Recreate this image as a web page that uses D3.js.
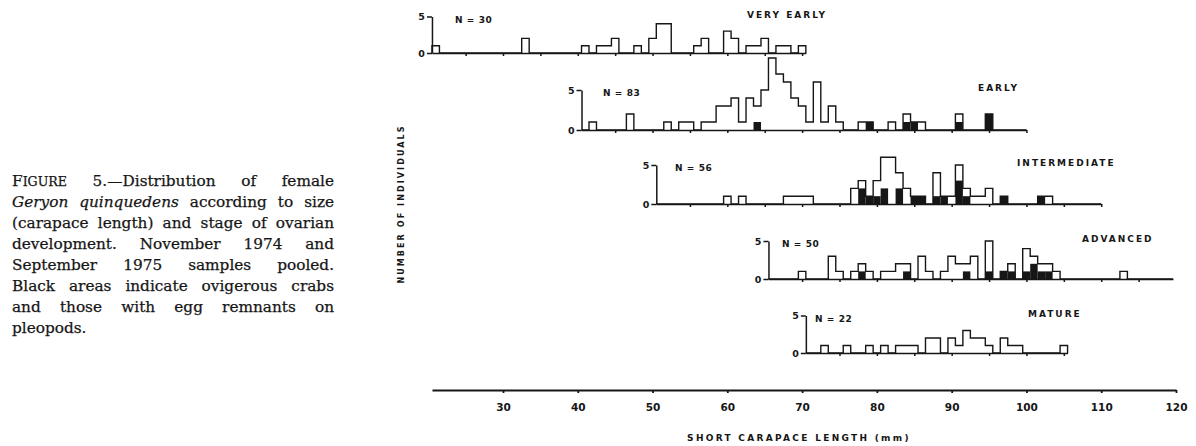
<!DOCTYPE html>
<html lang="en">
<head>
<meta charset="utf-8">
<title>Geryon quinquedens - size by ovarian stage</title>
<script src="https://d3js.org/d3.v7.min.js"></script>
<style>
body { margin: 0; background: #fff; }
.lab { font-family: "DejaVu Sans", sans-serif; font-weight: bold; fill: #161616; }
.cap { font-family: "DejaVu Serif", serif; font-size: 15.3px; fill: #161616; stroke: #161616; stroke-width: 0.25px; }
.axis path, .axis line { stroke: #161616; }
</style>
</head>
<body>
<script>
// stages and sample sizes
var stages = ["VERY EARLY", "EARLY", "INTERMEDIATE", "ADVANCED", "MATURE"];
var sampleN = [30, 83, 56, 50, 22];

// 1-mm size classes, number of females, number black (ovigerous / egg remnants)
var veryEarlyMM    = [21, 33, 41, 43, 44, 45, 48, 50, 51, 52, 56, 57, 60, 61, 63, 64, 65, 67, 68, 70];
var veryEarlyN     = [1, 2, 1, 1, 1, 2, 1, 2, 4, 4, 1, 2, 3, 2, 1, 1, 2, 1, 1, 1];
var veryEarlyBlack = [0, 0, 0, 0, 0, 0, 0, 0, 0, 0, 0, 0, 0, 0, 0, 0, 0, 0, 0, 0];

var earlyMM    = [42, 47, 52, 54, 55, 57, 58, 59, 60, 61, 62, 63, 64, 65, 66, 67, 68, 69, 70, 71, 72, 73, 74, 75, 78, 79, 82, 84, 85, 86, 91, 95];
var earlyN     = [1, 2, 1, 1, 1, 1, 1, 3, 3, 4, 1, 4, 3, 5, 9, 7, 6, 4, 3, 1, 6, 1, 3, 1, 1, 1, 1, 2, 1, 1, 2, 2];
var earlyBlack = [0, 0, 0, 0, 0, 0, 0, 0, 0, 0, 0, 0, 1, 0, 0, 0, 0, 0, 0, 0, 0, 0, 0, 0, 0, 1, 0, 1, 1, 0, 1, 2];

var intermediateMM    = [60, 62, 68, 69, 70, 71, 77, 78, 79, 80, 81, 82, 83, 84, 85, 86, 88, 89, 90, 91, 92, 93, 94, 95, 97, 102, 103];
var intermediateN     = [1, 1, 1, 1, 1, 1, 2, 3, 1, 3, 6, 6, 4, 2, 1, 1, 4, 1, 1, 5, 2, 1, 1, 2, 1, 1, 1];
var intermediateBlack = [0, 0, 0, 0, 0, 0, 0, 2, 1, 1, 2, 0, 2, 0, 1, 1, 1, 1, 0, 3, 1, 0, 0, 0, 1, 1, 0];

var advancedMM    = [70, 74, 75, 77, 78, 79, 81, 82, 83, 84, 86, 87, 89, 90, 91, 92, 93, 95, 97, 98, 100, 101, 102, 103, 104, 113];
var advancedN     = [1, 3, 1, 1, 2, 1, 1, 1, 2, 2, 3, 1, 1, 3, 2, 2, 3, 5, 1, 2, 4, 3, 2, 2, 1, 1];
var advancedBlack = [0, 0, 0, 0, 1, 0, 0, 0, 0, 1, 0, 0, 0, 0, 0, 1, 0, 1, 1, 1, 1, 2, 1, 1, 0, 0];

var matureMM    = [73, 76, 79, 81, 83, 84, 85, 87, 88, 90, 91, 92, 93, 94, 95, 97, 98, 99, 105];
var matureN     = [1, 1, 1, 1, 1, 1, 1, 2, 2, 2, 1, 3, 2, 2, 1, 2, 1, 1, 1];
var matureBlack = [0, 0, 0, 0, 0, 0, 0, 0, 0, 0, 0, 0, 0, 0, 0, 0, 0, 0, 0];

var xTicks = [30, 40, 50, 60, 70, 80, 90, 100, 110, 120];
var yTicks = [0, 5];

var captionLines = [
  "FIGURE 5.\u2014Distribution of female",
  "Geryon quinquedens according to size",
  "(carapace length) and stage of ovarian",
  "development. November 1974 and",
  "September 1975 samples pooled.",
  "Black areas indicate ovigerous crabs",
  "and those with egg remnants on",
  "pleopods."
];
var italicWords = ["Geryon", "quinquedens"];

// layout of the staggered panels (mm range of each small axis, baseline in px)
var panelStart = [20.5, 40.5, 50.5, 65.5, 70.5];
var panelEnd   = [70.5, 100, 110, 119.6, 105.5];
var baseY      = [53, 130, 204, 279, 353];
var unitPx     = [7.3, 8, 7.8, 7.6, 7.5];
var stageX     = [747, 978, 1017, 1082, 1028];
var nX         = [455, 603, 675, 782, 815];

var w = 1196, h = 446;
var svg = d3.select("body").append("svg")
            .attr("width", w)
            .attr("height", h);

// common length scale shared by all panels
var x = d3.scaleLinear().domain([30, 120]).range([503, 1176]);

var panels = [
  {mm: veryEarlyMM, n: veryEarlyN, blk: veryEarlyBlack},
  {mm: earlyMM, n: earlyN, blk: earlyBlack},
  {mm: intermediateMM, n: intermediateN, blk: intermediateBlack},
  {mm: advancedMM, n: advancedN, blk: advancedBlack},
  {mm: matureMM, n: matureN, blk: matureBlack}
];

panels.forEach(function(p, i) {
  var base = baseY[i];
  var x0 = panelStart[i], x1 = panelEnd[i];
  var y = d3.scaleLinear().domain([0, 5]).range([base, base - 5 * unitPx[i]]);
  var xs = x.copy().domain([x0, x1]).range([x(x0), x(x1)]);
  var g = svg.append("g");

  var count = {}, black = {};
  p.mm.forEach(function(m, j) { count[m] = p.n[j]; black[m] = p.blk[j]; });

  // black parts first
  g.selectAll("rect")
   .data(p.mm.filter(function(m) { return black[m] > 0; }))
   .enter()
   .append("rect")
   .attr("x", function(m) { return x(m - 0.5); })
   .attr("width", function(m) { return x(m + 0.5) - x(m - 0.5); })
   .attr("y", function(m) { return y(black[m]); })
   .attr("height", function(m) { return base - y(black[m]); })
   .attr("fill", "#161616");

  // stepped outline
  var kFirst = x0 + 0.5, kLast = Math.floor(x1 - 0.5);
  var pts = [[x0, 0]];
  for (var k = kFirst; k <= kLast; k++) pts.push([k - 0.5, count[k] || 0]);
  pts.push([kLast + 0.5, 0]);
  pts.push([x1, 0]);

  var line = d3.line()
               .x(function(d) { return x(d[0]); })
               .y(function(d) { return y(d[1]); })
               .curve(d3.curveStepAfter);

  g.append("path")
   .attr("d", line(pts))
   .attr("fill", "none")
   .attr("stroke", "#161616")
   .attr("stroke-width", 1.4);

  // small length axis with 5-mm ticks
  var ticks = d3.range(Math.ceil(x0 / 5) * 5, x1 + 0.01, 5);
  g.append("g")
   .attr("class", "axis")
   .attr("transform", "translate(0," + base + ")")
   .call(d3.axisBottom(xs).tickValues(ticks).tickSize(3).tickSizeOuter(0).tickFormat(""))
   .selectAll("path, line").attr("stroke-width", 1.5);

  // count axis 0 - 5
  var ya = g.append("g")
   .attr("class", "axis")
   .attr("transform", "translate(" + x(x0) + ",0)")
   .call(d3.axisLeft(y).tickValues(yTicks).tickFormat(d3.format("d"))
           .tickSize(5).tickSizeOuter(0).tickPadding(2));
  ya.selectAll("path, line").attr("stroke-width", 1.5);
  ya.selectAll("text").attr("class", "lab").attr("font-size", 9.5).attr("font-family", null);

  g.append("text")
   .attr("class", "lab")
   .attr("x", nX[i])
   .attr("y", y(5) + 6)
   .attr("font-size", 9)
   .attr("letter-spacing", 0.6)
   .text("N = " + sampleN[i]);

  g.append("text")
   .attr("class", "lab")
   .attr("x", stageX[i])
   .attr("y", y(5) + 1)
   .attr("font-size", 9)
   .attr("letter-spacing", 2)
   .text(stages[i]);
});

// main length axis
var xb = x.copy().domain([20.5, 120]).range([x(20.5), x(120)]);
var xa = svg.append("g")
            .attr("class", "axis")
            .attr("transform", "translate(0,390)")
            .call(d3.axisBottom(xb).tickValues(xTicks).tickSize(3).tickSizeOuter(0).tickPadding(11));
xa.selectAll("path, line").attr("stroke-width", 1.8);
xa.selectAll("text").attr("class", "lab").attr("font-size", 10.5).attr("font-family", null);

svg.append("text")
   .attr("class", "lab")
   .attr("x", 799)
   .attr("y", 441)
   .attr("text-anchor", "middle")
   .attr("font-size", 9)
   .attr("letter-spacing", 2.3)
   .text("SHORT CARAPACE LENGTH (mm)");

svg.append("text")
   .attr("class", "lab")
   .attr("transform", "translate(404,204) rotate(-90)")
   .attr("text-anchor", "middle")
   .attr("font-size", 8)
   .attr("letter-spacing", 2.1)
   .text("NUMBER OF INDIVIDUALS");

// justified caption at the left
var capLeft = 12, capRight = 334, capTop = 186, capLead = 21;
captionLines.forEach(function(txt, li) {
  var words = txt.split(" ");
  var yy = capTop + li * capLead;
  var nodes = words.map(function(wd) {
    var t = svg.append("text").attr("class", "cap").attr("y", yy);
    if (wd === "FIGURE") {
      t.append("tspan").text("F");
      t.append("tspan").attr("font-size", "12.6px").text("IGURE");
    } else {
      t.text(wd);
      if (italicWords.indexOf(wd) >= 0) t.attr("font-style", "italic");
    }
    return t;
  });
  var widths = nodes.map(function(n) { return n.node().getComputedTextLength(); });
  var last = li === captionLines.length - 1;
  var gap = last ? 4.5 : Math.max(3, (capRight - capLeft - d3.sum(widths)) / (words.length - 1));
  var cx = capLeft;
  nodes.forEach(function(n, j) { n.attr("x", cx); cx += widths[j] + gap; });
});
</script>
</body>
</html>
